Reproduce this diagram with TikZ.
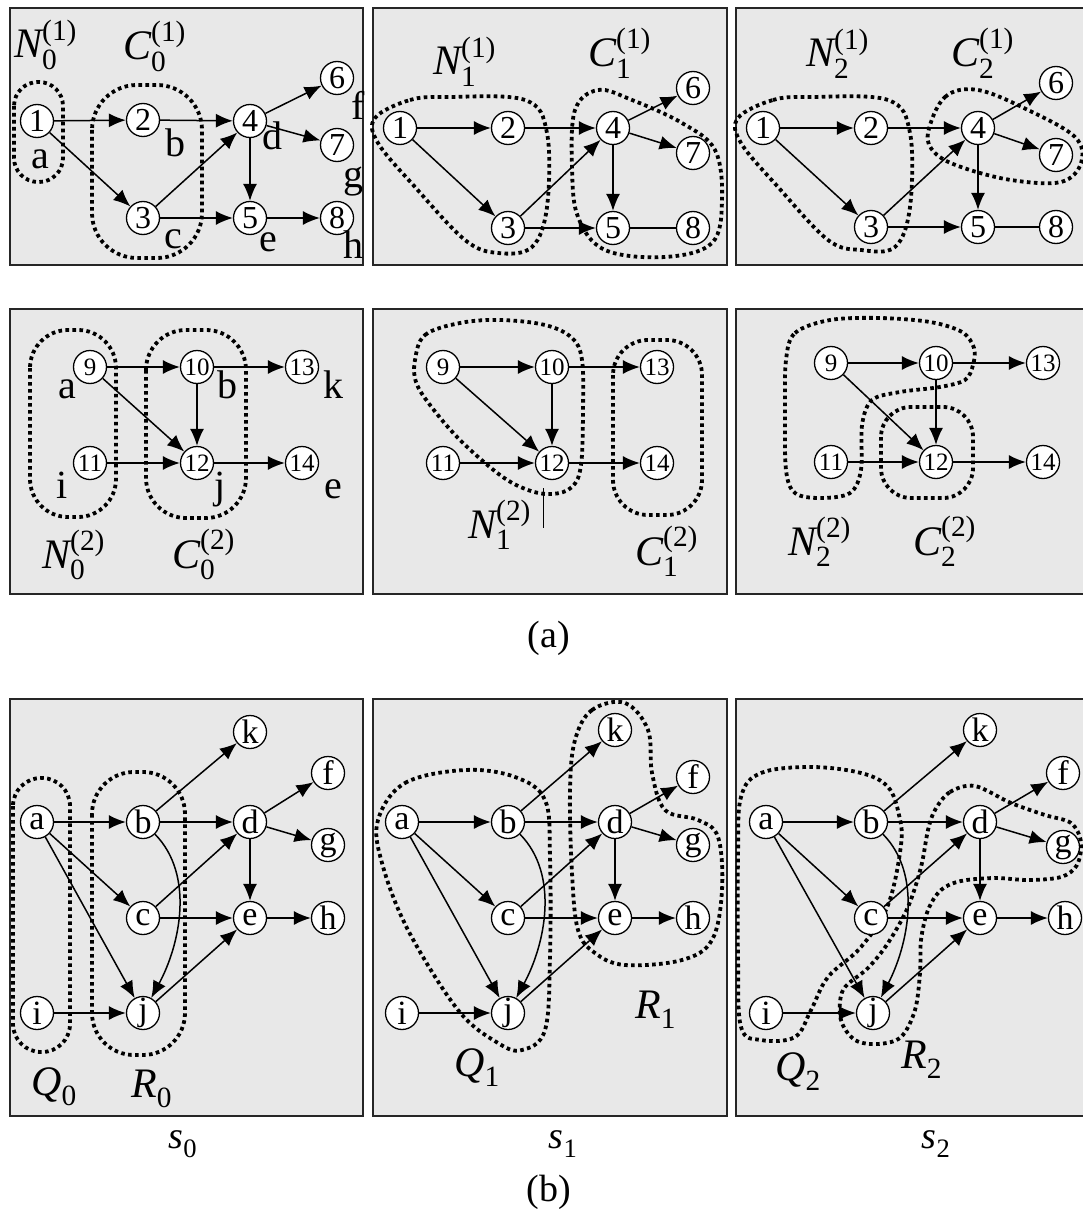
\documentclass[tikz,border=0pt]{standalone}
\usepackage{amsmath}
\usepackage{fontspec}
\setmainfont{Liberation Serif}
\usetikzlibrary{arrows.meta}
\pgfdeclarelayer{bg}
\pgfdeclarelayer{mid}
\pgfsetlayers{bg,mid,main}
\tikzset{
 nd/.style={circle, draw, line width=1.3pt, fill=white, minimum size=33pt, inner sep=0pt, font=\fontsize{32}{32}\selectfont},
 nds/.style={nd, font=\fontsize{25}{25}\selectfont},
 ndl/.style={nd, font=\fontsize{34}{34}\selectfont},
 arr/.style={line width=1.5pt, -{Latex[length=17pt,width=14pt]}},
 ln/.style={line width=1.5pt},
 reg/.style={line width=3.8pt, dash pattern=on 3.6pt off 3.4pt},
 panel/.style={fill=gray!18, draw=black!85, line width=1.7pt},
 lab/.style={inner sep=0pt, anchor=base, font=\fontsize{40}{40}\selectfont},
 mlab/.style={inner sep=0pt, anchor=base west, font=\fontsize{42}{42}\selectfont},
 captxt/.style={inner sep=0pt, font=\fontsize{38}{38}\selectfont},
}
\newcommand{\ML}[3]{$\textit{#1}_{\text{#2}}^{\text{#3}}$}
\begin{document}
\begin{tikzpicture}[x=1pt,y=-1pt]
\useasboundingbox (0,0) rectangle (1083,1209);
\begin{pgfonlayer}{bg}
\fill[white] (0,0) rectangle (1083,1209);
\foreach \ya/\yb in {8/265,309/594,699/1116}{
  \draw[panel] (10,\ya) rectangle (363,\yb);
  \draw[panel] (373,\ya) rectangle (727,\yb);
  \draw[panel] (736,\ya) rectangle (1095,\yb);
}
\end{pgfonlayer}

% ---------- Row 1 ----------
\foreach \n/\x/\y in {1/37/121,2/143/120,3/143/218,4/250/121,5/250/218,6/337/78,7/337/145,8/337/218}
  \node[nd] (p1-\n) at (\x,\y) {\n};
\foreach \n/\x/\y in {1/400/128,2/508/128,3/508/228,4/613/128,5/613/228,6/693/88,7/693/153,8/693/228}
  \node[nd] (p2-\n) at (\x,\y) {\n};
\foreach \n/\x/\y in {1/763/128,2/871/128,3/871/227,4/978/128,5/978/227,6/1056/83,7/1056/155,8/1056/227}
  \node[nd] (p3-\n) at (\x,\y) {\n};

% ---------- Row 2 ----------
\foreach \n/\x/\y in {9/90/367,10/197/367,11/90/463,12/197/463,13/302/367,14/302/463}
  \node[nds] (p4-\n) at (\x,\y) {\n};
\foreach \n/\x/\y in {9/443/367,10/552/367,11/443/463,12/552/463,13/657/367,14/657/463}
  \node[nds] (p5-\n) at (\x,\y) {\n};
\foreach \n/\x/\y in {9/831/363,10/936/363,11/831/462,12/936/462,13/1043/363,14/1043/462}
  \node[nds] (p6-\n) at (\x,\y) {\n};

% ---------- Row 3 ----------
\foreach \n/\x/\y in {a/37/822,b/143/822,c/143/918,d/250/822,e/250/918,f/328/773,g/328/845,h/328/918,k/250/732,i/37/1013,j/143/1013}
  \node[ndl] (p7-\n) at (\x,\y) {\n};
\foreach \n/\x/\y in {a/402/822,b/508/822,c/508/918,d/615/822,e/615/918,f/693/777,g/693/845,h/693/918,k/615/730,i/402/1013,j/508/1013}
  \node[ndl] (p8-\n) at (\x,\y) {\n};
\foreach \n/\x/\y in {a/766/822,b/871/822,c/871/918,d/980/822,e/980/918,f/1063/773,g/1063/847,h/1065/918,k/980/730,i/766/1013,j/873/1013}
  \node[ndl] (p9-\n) at (\x,\y) {\n};

\begin{pgfonlayer}{mid}
% edges row 1
\foreach \a/\b in {1/2,1/3,2/4,3/4,3/5,4/5,4/6,4/7,5/8}
  \draw[arr] (p1-\a) -- (p1-\b);
\foreach \p in {p2,p3}{
  \foreach \a/\b in {1/2,1/3,2/4,3/4,3/5,4/5,4/6,4/7}
    \draw[arr] (\p-\a) -- (\p-\b);
  \draw[ln] (\p-5) -- (\p-8);
}
% edges row 2
\foreach \p in {p4,p5,p6}{
  \foreach \a/\b in {9/10,9/12,10/13,10/12,11/12,12/14}
    \draw[arr] (\p-\a) -- (\p-\b);
}
% edges row 3
\foreach \p in {p7,p8,p9}{
  \foreach \a/\b in {a/b,a/c,a/j,b/d,b/k,c/d,c/e,d/e,d/f,d/g,e/h,i/j,j/e}
    \draw[arr] (\p-\a) -- (\p-\b);
}
\draw[arr] (p7-b) .. controls (195,875) and (180,945) .. (p7-j);
\draw[arr] (p8-b) .. controls (560,875) and (545,945) .. (p8-j);
\draw[arr] (p9-b) .. controls (923,875) and (908,945) .. (p9-j);

% regions panel 1
\draw[reg, rounded corners=24] (14,82) rectangle (63,182);
\draw[reg, rounded corners=45] (92,85) rectangle (202,258);
% panel 2
\draw[reg] plot[smooth cycle, tension=0.6] coordinates {(375,118)(410,100)(448,97)(525,100)(547,133)(547,207)(532,247)(498,253)(465,240)(415,187)(378,143)};
\draw[reg] plot[smooth cycle, tension=0.6] coordinates {(575,110)(598,90)(632,100)(682,123)(715,150)(722,200)(712,243)(665,257)(605,250)(578,217)(572,167)};
% panel 3
\draw[reg] plot[smooth cycle, tension=0.6] coordinates {(738,118)(773,100)(811,97)(888,100)(910,133)(910,207)(895,247)(861,250)(828,240)(778,187)(741,143)};
\draw[reg] plot[smooth cycle, tension=0.6] coordinates {(928,133)(945,97)(978,90)(1028,110)(1075,137)(1081,163)(1061,182)(1011,180)(961,167)(935,153)};
% panel 4
\draw[reg, rounded corners=38] (30,330) rectangle (116,517);
\draw[reg, rounded corners=40] (146,330) rectangle (246,518);
% panel 5
\draw[reg] plot[smooth cycle, tension=0.6] coordinates {(415,360)(425,335)(460,323)(500,320)(545,325)(572,338)(582,360)(583,410)(581,465)(572,487)(552,494)(528,490)(500,475)(460,440)(430,405)(416,382)};
\draw[reg, rounded corners=35] (613,340) rectangle (702,515);
% panel 6
\draw[reg] plot[smooth cycle, tension=0.55] coordinates {(786,360)(795,333)(830,320)(880,318)(930,322)(962,332)(974,348)(973,365)(965,380)(940,387)(900,392)(872,400)(862,425)(861,470)(850,493)(820,498)(795,493)(786,470)(785,410)};
\draw[reg, rounded corners=30] (881,407) rectangle (973,498);
% panel 7
\draw[reg, rounded corners=28] (13,778) rectangle (70,1052);
\draw[reg, rounded corners=42] (92,772) rectangle (185,1055);
% panel 8
\draw[reg] plot[smooth cycle, tension=0.6] coordinates {(378,820)(405,783)(465,770)(515,777)(545,800)(550,857)(550,957)(545,1030)(522,1050)(498,1043)(458,1010)(408,930)(382,863)};
\draw[reg] plot[smooth cycle, tension=0.6] coordinates {(575,740)(592,710)(625,703)(648,730)(652,773)(665,810)(698,820)(718,837)(722,890)(712,940)(682,960)(625,965)(595,953)(578,930)(572,873)(570,790)};
% panel 9
\draw[reg] plot[smooth cycle, tension=0.6] coordinates {(741,797)(761,773)(811,767)(861,773)(888,787)(899,815)(901,845)(888,905)(861,947)(828,977)(811,1010)(795,1037)(761,1040)(741,1027)(738,957)(738,857)};
\draw[reg] plot[smooth cycle, tension=0.55] coordinates {(935,810)(950,792)(975,786)(1011,803)(1045,815)(1071,823)(1081,842)(1077,865)(1061,877)(1028,880)(995,878)(961,881)(941,890)(928,910)(921,940)(920,973)(915,1010)(901,1037)(878,1044)(855,1040)(841,1020)(843,990)(868,968)(888,943)(908,907)(921,867)(928,830)};
% stray bar in panel 5
\draw[line width=1pt] (543,488) -- (543,528);
\end{pgfonlayer}

% ---------- Labels ----------
\node[lab] at (40,169) {a};
\node[lab] at (175,157) {b};
\node[lab] at (173,248) {c};
\node[lab] at (272,150) {d};
\node[lab] at (268,251) {e};
\node[lab] at (358,120) {f};
\node[lab] at (353,188) {g};
\node[lab] at (353,258) {h};

\node[lab] at (67,398) {a};
\node[lab] at (227,398) {b};
\node[lab] at (333,398) {k};
\node[lab] at (62,498) {i};
\node[lab] at (220,498) {j};
\node[lab] at (333,498) {e};

\node[mlab] at (14,58) {\ML{N}{0}{(1)}};
\node[mlab] at (123,60) {\ML{C}{0}{(1)}};
\node[mlab] at (433,75) {\ML{N}{1}{(1)}};
\node[mlab] at (588,67) {\ML{C}{1}{(1)}};
\node[mlab] at (806,67) {\ML{N}{2}{(1)}};
\node[mlab] at (951,67) {\ML{C}{2}{(1)}};

\node[mlab] at (42,568) {\ML{N}{0}{(2)}};
\node[mlab] at (172,568) {\ML{C}{0}{(2)}};
\node[mlab] at (468,538) {\ML{N}{1}{(2)}};
\node[mlab] at (635,565) {\ML{C}{1}{(2)}};
\node[mlab] at (788,555) {\ML{N}{2}{(2)}};
\node[mlab] at (913,555) {\ML{C}{2}{(2)}};

\node[mlab] at (31,1095) {$\textit{Q}_{\text{0}}$};
\node[mlab] at (131,1097) {$\textit{R}_{\text{0}}$};
\node[mlab] at (454,1076) {$\textit{Q}_{\text{1}}$};
\node[mlab] at (635,1018) {$\textit{R}_{\text{1}}$};
\node[mlab] at (775,1080) {$\textit{Q}_{\text{2}}$};
\node[mlab] at (901,1068) {$\textit{R}_{\text{2}}$};

\node[captxt, anchor=base] at (183,1148) {$\textit{s}_{\text{0}}$};
\node[captxt, anchor=base] at (563,1148) {$\textit{s}_{\text{1}}$};
\node[captxt, anchor=base] at (936,1148) {$\textit{s}_{\text{2}}$};
\node[captxt] at (549,638) {(a)};
\node[captxt] at (549,1192) {(b)};
\end{tikzpicture}
\end{document}
